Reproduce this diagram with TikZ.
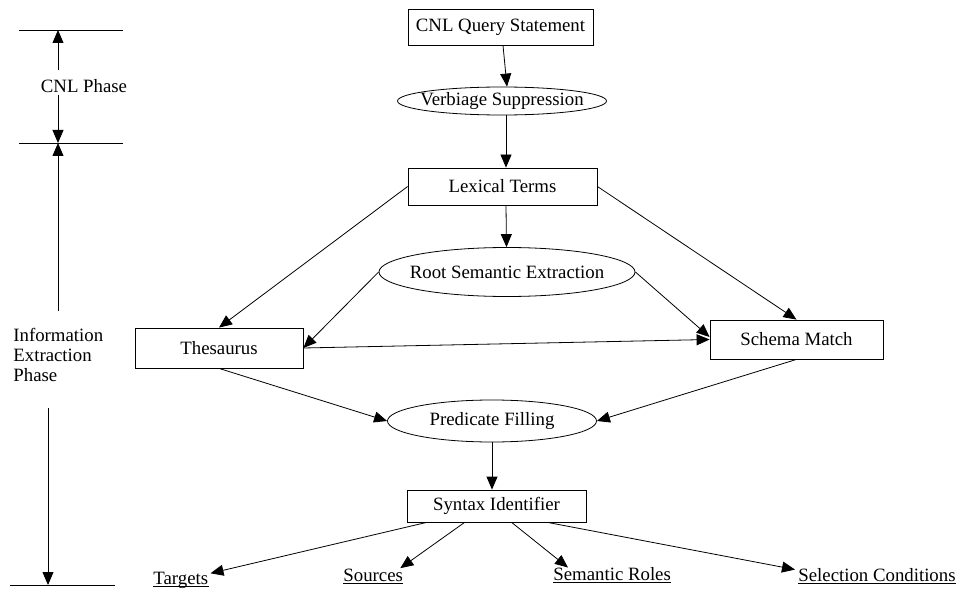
\documentclass[tikz,border=0pt]{standalone}
\usepackage{fontspec}
\setmainfont{Liberation Serif}
\usetikzlibrary{arrows.meta,shapes.geometric,calc}
\begin{document}
\begin{tikzpicture}[x=1pt,y=-1pt,line width=0.8pt,
  every node/.style={font=\fontsize{18.8}{20}\selectfont},
  box/.style={draw,rectangle,inner sep=0pt},
  oval/.style={draw,ellipse,inner sep=-40pt},
  lbl/.style={inner sep=0pt,anchor=base west},
  flow/.style={-{Triangle[length=13pt,width=11pt]}}]
\useasboundingbox (0,0) rectangle (959,591);

% ---- phase scale on the left ----
\draw (19,30) -- (123,30);
\draw (19,143) -- (123,143);
\draw (10,585) -- (115,585);
\coordinate (p0) at (58,30);
\coordinate (p1) at (58,143);
\coordinate (q1) at (48,585);
\coordinate (a0) at (58,70);
\coordinate (a1) at (58,95);
\coordinate (a2) at (58,311);
\coordinate (a3) at (48,408);
\node (cnlphase) at (84,86) {CNL Phase};
\node[align=left,anchor=west,inner sep=0pt] (iephase) at (13,355) {Information\\Extraction\\Phase};
\draw[flow] (a0) -- (p0);
\draw[flow] (a1) -- (p1);
\draw[flow] (a2) -- (p1);
\draw[flow] (a3) -- (q1);

% ---- processing steps ----
\node[box,minimum width=185pt,minimum height=36pt] (cnl) at (500.5,27) {CNL Query Statement};
\node[oval,minimum width=209pt,minimum height=28pt] (verb) at (502,101) {Verbiage Suppression};
\node[box,minimum width=189pt,minimum height=37pt] (lex) at (502.5,186.5) {Lexical Terms};
\node[oval,minimum width=256pt,minimum height=49pt] (root) at (507,272) {Root Semantic Extraction};
\node[box,minimum width=168pt,minimum height=40pt] (thes) at (219,348) {Thesaurus};
\node[box,minimum width=173pt,minimum height=39pt] (schema) at (796.5,339.5) {Schema Match};
\node[oval,minimum width=209pt,minimum height=42pt] (pred) at (492,421) {Predicate Filling};
\node[box,minimum width=179pt,minimum height=32pt] (syn) at (496.5,506) {Syntax Identifier};

% ---- outputs ----
\node[lbl] (tgt) at (153,584) {Targets};
\node[lbl] (src) at (343,581) {Sources};
\node[lbl] (role) at (553,580) {Semantic Roles};
\node[lbl] (sel) at (798,581) {Selection Conditions};
\foreach \n in {tgt,src,role,sel}
  \draw[line width=0.7pt] ($(\n.base west)+(0,2.5)$) -- ($(\n.base east)+(0,2.5)$);

% ---- connectors ----
\draw[flow] ([xshift=2.5pt]cnl.south) -- ([xshift=5pt]verb.north);
\draw[flow] ([xshift=4pt]verb.south) -- ([xshift=3.5pt]lex.north);
\draw[flow] ([xshift=3.5pt]lex.south) -- ([xshift=-0.5pt]root.north);
\draw[flow] (lex.west) -- (thes.north);
\draw[flow] (lex.east) -- (schema.north);
\draw[flow] (root.west) -- (thes.east);
\draw[flow] (root.east) -- ([yshift=2.5pt]schema.west);
\draw[flow] (thes.east) -- (schema.west);
\draw[flow] (thes.south) -- (pred.west);
\draw[flow] (schema.south) -- (pred.east);
\draw[flow] (pred.south) -- (pred.south |- syn.north);
\draw[flow] ($(syn.south west)+(20,0)$) -- ($(tgt.north east)+(2,2)$);
\draw[flow] ($(syn.south west)+(58,0)$) -- ($(src.north east)+(-3,0)$);
\draw[flow] ($(syn.south west)+(105,0)$) -- ($(role.north west)+(15,1)$);
\draw[flow] ($(syn.south west)+(141,0)$) -- ($(sel.north west)+(-3,2)$);
\end{tikzpicture}
\end{document}
